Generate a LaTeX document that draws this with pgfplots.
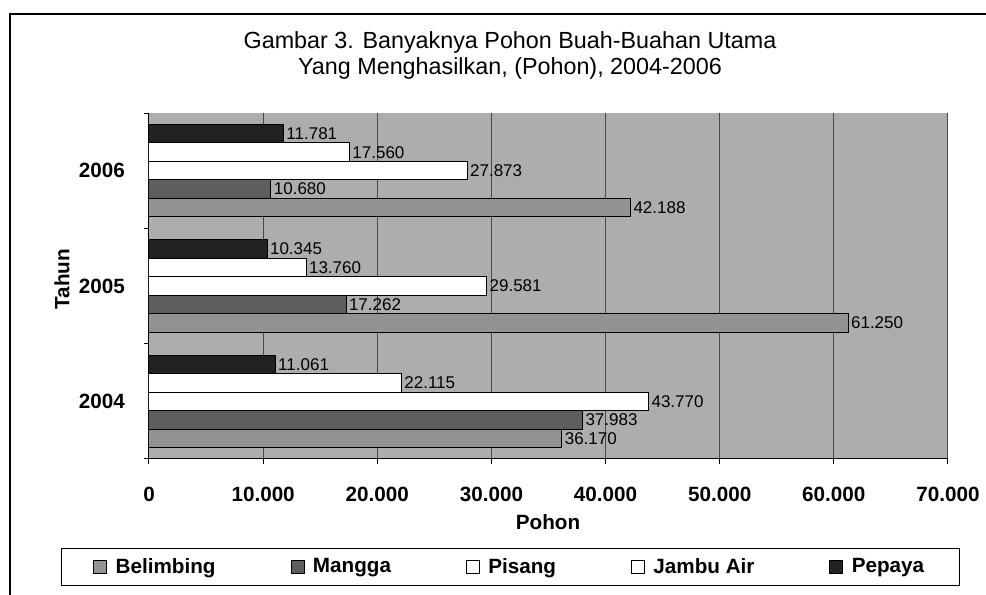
\documentclass[border=0pt]{standalone}
\usepackage{pgfplots}
\pgfplotsset{compat=1.18}
\usepackage{fontspec}
\setmainfont{Liberation Sans}
\definecolor{bgc}{HTML}{ADADAD}
\definecolor{belc}{HTML}{939393}
\definecolor{mangc}{HTML}{5E5E5E}
\definecolor{pepc}{HTML}{222222}
\definecolor{gridc}{HTML}{4A4A4A}
\pgfplotsset{/pgf/number format/.cd, 1000 sep={.}, assume math mode=true}
\begin{document}
\begin{tikzpicture}[x=0.6pt,y=0.6pt]
\useasboundingbox (0,0) rectangle (986,595);
\draw[line width=0.8pt] (10,0) -- (10,581) -- (986,581);
\node[font=\fontsize{14}{16}\selectfont] at (510,553) {Gambar 3. Banyaknya Pohon Buah-Buahan Utama};
\node[font=\fontsize{14}{16}\selectfont] at (510,527) {Yang Menghasilkan, (Pohon), 2004-2006};
\node[font=\bfseries\fontsize{12.4}{15}\selectfont, rotate=90] at (62,316) {Tahun};
\node[font=\bfseries\fontsize{12.4}{15}\selectfont] at (548,73) {Pohon};
\begin{axis}[
  at={(89.4pt,81.6pt)}, anchor=south west,
  width=479.4pt, height=207.6pt, scale only axis,
  xbar, bar width=0.16,
  xmin=0, xmax=70000, ymin=0.5, ymax=3.5,
  axis background/.style={fill=bgc},
  axis x line*=bottom, axis y line*=left,
  axis line style={black, line width=0.6pt},
  xtick={0,10000,...,70000},
  scaled x ticks=false,
  xmajorgrids, grid style={gridc, line width=0.6pt},
  ytick={0.5,1.5,2.5,3.5},
  yticklabels={2004,2005,2006,},
  yticklabel style={yshift=34.6pt, xshift=-8pt},
  xticklabel style={yshift=-10.5pt},
  tick align=outside, major tick length=3pt,
  tick style={black, line width=0.6pt},
  ticklabel style={font=\bfseries\fontsize{12.4}{15}\selectfont},
  point meta=x,
  nodes near coords,
  every node near coord/.append style={font=\fontsize{10.2}{12}\selectfont, anchor=west, black, inner sep=1.5pt},
  legend columns=5,
  legend style={at={(0.4524,-0.3121)}, anchor=center, draw=black, line width=0.6pt,
    font=\bfseries\fontsize{12.4}{15}\selectfont, inner xsep=19pt, inner ysep=4pt,
    /tikz/every odd column/.append style={column sep=3pt},
    /tikz/every even column/.append style={column sep=43pt}},
  legend image code/.code={\draw[#1, draw=black, line width=0.6pt] (0pt,-3.9pt) rectangle (7.8pt,3.9pt);},
]
\addplot[fill=belc, draw=black, line width=0.6pt, bar shift=-0.32] coordinates {(36170,1) (61250,2) (42188,3)};
\addplot[fill=mangc, draw=black, line width=0.6pt, bar shift=-0.16] coordinates {(37983,1) (17262,2) (10680,3)};
\addplot[fill=white, draw=black, line width=0.6pt, bar shift=0] coordinates {(43770,1) (29581,2) (27873,3)};
\addplot[fill=white, draw=black, line width=0.6pt, bar shift=0.16] coordinates {(22115,1) (13760,2) (17560,3)};
\addplot[fill=pepc, draw=black, line width=0.6pt, bar shift=0.32] coordinates {(11061,1) (10345,2) (11781,3)};
\legend{Belimbing, Mangga, Pisang, Jambu Air, Pepaya}
\end{axis}
\end{tikzpicture}
\end{document}
